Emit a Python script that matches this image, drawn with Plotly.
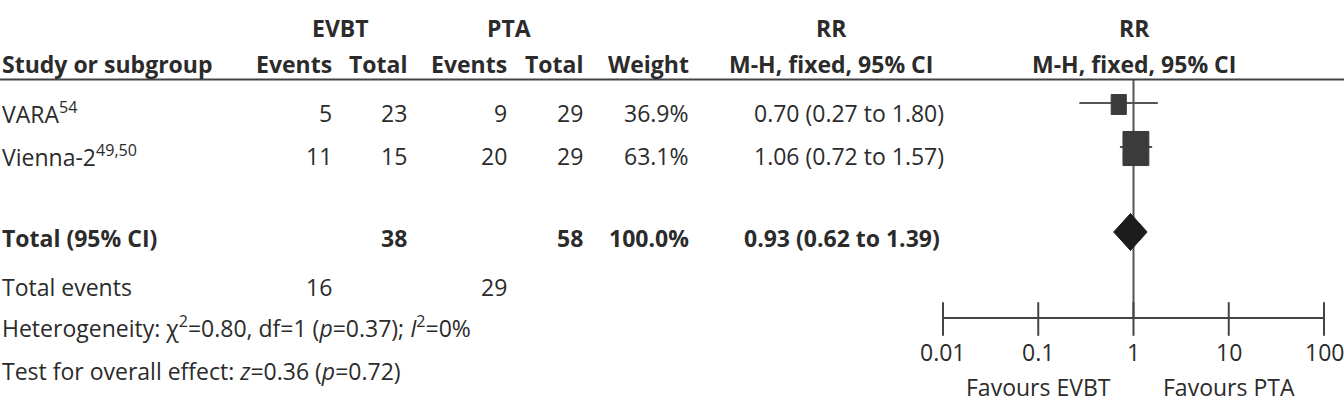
import math
import plotly.graph_objects as go

W, H = 1344, 407

# ---------------- data ----------------
studies = ["VARA<sup>54</sup>", "Vienna-2<sup>49,50</sup>"]
evbt_events = [5, 11]
evbt_total = [23, 15]
pta_events = [9, 20]
pta_total = [29, 29]
weights = [36.9, 63.1]
rr = [0.70, 1.06]
rr_lo = [0.27, 0.72]
rr_hi = [1.80, 1.57]

total_label = "Total (95% CI)"
total_evbt_n = 38
total_pta_n = 58
total_weight = 100.0
total_rr = 0.93
total_lo = 0.62
total_hi = 1.39

events_label = "Total events"
total_evbt_events = 16
total_pta_events = 29

het_text = "Heterogeneity: χ<sup>2</sup>=0.80, df=1 (<i>p</i>=0.37); <i>I</i><sup>2</sup>=0%"
overall_text = "Test for overall effect: <i>z</i>=0.36 (<i>p</i>=0.72)"

group_headers = ["EVBT", "PTA", "RR", "RR"]
col_headers = ["Study or subgroup", "Events", "Total", "Events", "Total", "Weight",
               "M-H, fixed, 95% CI", "M-H, fixed, 95% CI"]

tick_vals = [0.01, 0.1, 1, 10, 100]
tick_labels = ["0.01", "0.1", "1", "10", "100"]
favours_at = [0.1, 10]
favours_labels = ["Favours EVBT", "Favours PTA"]

# ---------------- layout (pixels) ----------------
FONT = "Open Sans"
FS = 23
TXT = "#2b2b2b"
LINE = "#555555"

AX_L, AX_R = 943, 1324
PX_PER_DEC = (AX_R - AX_L) / 4.0

X_STUDY = 0
X_EV1, X_TOT1 = 334, 409
X_EV2, X_TOT2 = 509, 585
X_WT = 691
X_RR = 946
X_GRP = [340, 509, 831, 1134]
X_HDR = [X_STUDY, X_EV1, X_TOT1, X_EV2, X_TOT2, X_WT, 831, 1134]
HDR_ANCH = ["left", "right", "right", "right", "right", "right", "center", "center"]

Y_GRP, Y_HDR, Y_LINE = 28, 64, 79.5
Y_ROWS = [113, 156]
Y_MARK = [103, 147]
Y_TOT, Y_TOT_MARK = 238, 232
Y_EVENTS, Y_HET, Y_OVR = 287, 327, 371
Y_AXIS, Y_TICKLAB, Y_FAV = 318, 352, 387

annotations = []
font = dict(family=FONT, size=FS, color=TXT)


def txt(x, y, s, anchor, bold=False):
    annotations.append(dict(
        x=x / W, y=y, xref="paper", yref="y", text=f"<b>{s}</b>" if bold else s,
        showarrow=False, xanchor=anchor, yanchor="middle", font=font))


def axis_txt(v, y, s):
    annotations.append(dict(
        x=math.log10(v), y=y, xref="x", yref="y", text=s,
        showarrow=False, xanchor="center", yanchor="middle", font=font))


for g, x in zip(group_headers, X_GRP):
    txt(x, Y_GRP, g, "center", True)
for h, x, a in zip(col_headers, X_HDR, HDR_ANCH):
    txt(x, Y_HDR, h, a, True)

for i, name in enumerate(studies):
    y = Y_ROWS[i]
    txt(X_STUDY, y, name, "left")
    txt(X_EV1, y, str(evbt_events[i]), "right")
    txt(X_TOT1, y, str(evbt_total[i]), "right")
    txt(X_EV2, y, str(pta_events[i]), "right")
    txt(X_TOT2, y, str(pta_total[i]), "right")
    txt(X_WT, y, f"{weights[i]:.1f}%", "right")
    txt(X_RR, y, f"{rr[i]:.2f} ({rr_lo[i]:.2f} to {rr_hi[i]:.2f})", "right")

txt(X_STUDY, Y_TOT, total_label, "left", True)
txt(X_TOT1, Y_TOT, str(total_evbt_n), "right", True)
txt(X_TOT2, Y_TOT, str(total_pta_n), "right", True)
txt(X_WT, Y_TOT, f"{total_weight:.1f}%", "right", True)
txt(X_RR - 4, Y_TOT, f"{total_rr:.2f} ({total_lo:.2f} to {total_hi:.2f})", "right", True)

txt(X_STUDY, Y_EVENTS, events_label, "left")
txt(X_EV1, Y_EVENTS, str(total_evbt_events), "right")
txt(X_EV2, Y_EVENTS, str(total_pta_events), "right")
txt(X_STUDY, Y_HET, het_text, "left")
txt(X_STUDY, Y_OVR, overall_text, "left")

for v, s in zip(tick_vals, tick_labels):
    axis_txt(v, Y_TICKLAB, s)
for v, s in zip(favours_at, favours_labels):
    axis_txt(v, Y_FAV, s)

fig = go.Figure()

# line of no effect
fig.add_trace(go.Scatter(x=[1, 1], y=[Y_LINE, Y_AXIS], mode="lines",
                         line=dict(color=LINE, width=2), hoverinfo="skip"))

# study CIs and weight boxes
for i in range(len(studies)):
    fig.add_trace(go.Scatter(x=[rr_lo[i], rr_hi[i]], y=[Y_MARK[i], Y_MARK[i]], mode="lines",
                             line=dict(color=LINE, width=2), hoverinfo="skip"))
    hw = 0.41 * weights[i] / 2 / PX_PER_DEC
    hh = 0.54 * weights[i] / 2
    f = 10 ** hw
    yc = Y_MARK[i] + 1.5
    fig.add_trace(go.Scatter(
        x=[rr[i] / f, rr[i] * f, rr[i] * f, rr[i] / f, rr[i] / f],
        y=[yc - hh, yc - hh, yc + hh, yc + hh, yc - hh],
        mode="lines", fill="toself", fillcolor="#3b3b3b",
        line=dict(color="#3b3b3b", width=1), hoverinfo="skip"))

# pooled diamond
DH = 18.5
fig.add_trace(go.Scatter(
    x=[total_lo, total_rr, total_hi, total_rr, total_lo],
    y=[Y_TOT_MARK, Y_TOT_MARK - DH, Y_TOT_MARK, Y_TOT_MARK + DH, Y_TOT_MARK],
    mode="lines", fill="toself", fillcolor="#1c1c1c",
    line=dict(color="#1c1c1c", width=1), hoverinfo="skip"))

# axis line + crossing ticks
fig.add_trace(go.Scatter(x=[tick_vals[0], tick_vals[-1]], y=[Y_AXIS, Y_AXIS], mode="lines",
                         line=dict(color="#444444", width=2), hoverinfo="skip"))
fig.add_trace(go.Scatter(x=tick_vals, y=[Y_AXIS + 1] * len(tick_vals), mode="markers",
                         marker=dict(symbol="line-ns", size=24,
                                     line=dict(color="#444444", width=2)),
                         hoverinfo="skip"))

fig.update_layout(
    width=W, height=H, margin=dict(l=0, r=0, t=0, b=0),
    paper_bgcolor="white", plot_bgcolor="rgba(0,0,0,0)",
    showlegend=False,
    xaxis=dict(type="log", range=[-2, 2], domain=[AX_L / W, AX_R / W], visible=False,
               fixedrange=True),
    yaxis=dict(range=[H, 0], visible=False, fixedrange=True),
    annotations=annotations,
    shapes=[dict(type="line", xref="paper", yref="y", x0=0, x1=1, y0=Y_LINE, y1=Y_LINE,
                 line=dict(color="#444444", width=2))],
)
for tr in fig.data:
    tr.cliponaxis = False

fig.write_html("out.html")
